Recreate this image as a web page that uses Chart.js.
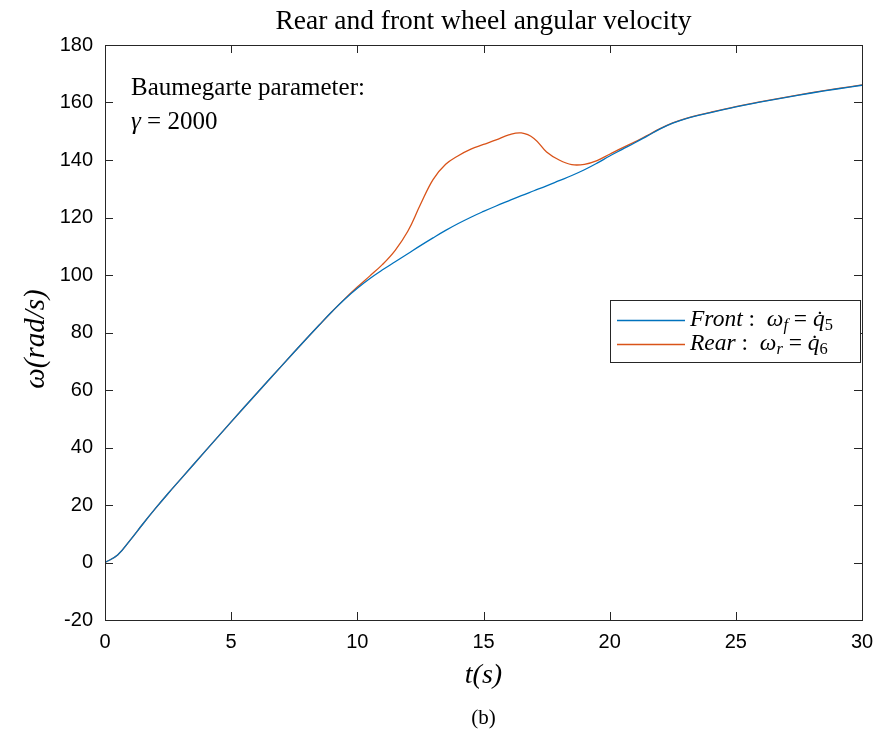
<!DOCTYPE html>
<html>
<head>
<meta charset="utf-8">
<script src="https://cdn.jsdelivr.net/npm/chart.js@4.4.0/dist/chart.umd.min.js"></script>
<style>
  html, body { margin: 0; padding: 0; background: #fff; }
  #wrap { width: 888px; height: 734px; }
</style>
</head>
<body>
<div id="wrap"><canvas id="omegaChart" width="888" height="734"></canvas></div>
<script>
// Tiempo (s)
const tiempo = [0, 0.5, 1, 1.5, 2, 2.5, 3, 4, 5, 6, 7, 8, 8.5, 9, 9.5, 10, 10.5, 11, 11.5, 12, 12.5, 13, 13.5,
  14, 14.5, 15, 15.5, 16, 16.5, 17, 17.5, 18, 18.5, 19, 19.5, 20, 20.5, 21, 21.5, 22, 22.5, 23,
  24, 25, 26, 27, 28, 29, 30];

// Rueda delantera: omega_f (rad/s)
const front = [0, 2.6, 7.8, 13.4, 18.8, 24, 29, 39, 48.9, 58.7, 68.4, 78, 82.7, 87.3, 91.6, 95.4, 98.8, 101.8, 104.6, 107.4, 110.2, 112.9, 115.5,
  117.9, 120.1, 122.1, 124, 125.8, 127.6, 129.3, 131, 132.8, 134.6, 136.6, 138.9, 141.4, 143.7, 146, 148.4, 150.8, 152.8, 154.3,
  156.5, 158.5, 160.2, 161.8, 163.3, 164.7, 166];

// Rueda trasera: omega_r (rad/s)
const rear = [0, 2.6, 7.8, 13.4, 18.8, 24, 29, 39, 48.9, 58.7, 68.4, 78, 82.7, 87.3, 91.7, 95.8, 99.7, 103.7, 108.6, 115.2, 124.5, 133.2, 138.5,
  141.5, 143.8, 145.4, 147, 148.7, 149.4, 147.5, 142.8, 140, 138.4, 138.5, 139.8, 142, 144.2, 146.3, 148.6, 150.9, 152.9, 154.4,
  156.6, 158.6, 160.3, 161.9, 163.4, 164.8, 166.1];

const xTicks = [0, 5, 10, 15, 20, 25, 30];
const yTicks = [-20, 0, 20, 40, 60, 80, 100, 120, 140, 160, 180];

const serif = '"Liberation Serif", "DejaVu Serif", serif';
const sans = '"Liberation Sans", Arial, sans-serif';

// dibuja texto con partes en cursiva y subíndices
function richText(ctx, parts, x, y, size) {
  let cx = x;
  parts.forEach(p => {
    const s = p.sub ? size * 0.7 : size;
    ctx.font = (p.it ? 'italic ' : '') + s + 'px ' + serif;
    ctx.fillText(p.t, cx, y + (p.sub ? size * 0.25 : 0));
    cx += ctx.measureText(p.t).width;
  });
}

const decoraciones = {
  id: 'decoraciones',
  afterDraw(chart) {
    const ctx = chart.ctx;
    const a = chart.chartArea;
    const xs = chart.scales.x, ys = chart.scales.y;
    ctx.save();
    // caja de ejes
    ctx.strokeStyle = '#262626';
    ctx.lineWidth = 1;
    ctx.strokeRect(a.left + 0.5, a.top + 0.5, a.right - a.left, a.bottom - a.top);
    // marcas hacia dentro
    ctx.beginPath();
    xTicks.forEach(v => {
      const px = Math.round(xs.getPixelForValue(v)) + 0.5;
      ctx.moveTo(px, a.bottom); ctx.lineTo(px, a.bottom - 8);
      ctx.moveTo(px, a.top); ctx.lineTo(px, a.top + 8);
    });
    yTicks.forEach(v => {
      const py = Math.round(ys.getPixelForValue(v)) + 0.5;
      ctx.moveTo(a.left, py); ctx.lineTo(a.left + 8, py);
      ctx.moveTo(a.right, py); ctx.lineTo(a.right - 8, py);
    });
    ctx.stroke();

    ctx.fillStyle = '#000';
    // título
    ctx.textAlign = 'center';
    ctx.textBaseline = 'middle';
    ctx.font = '27.5px ' + serif;
    ctx.fillText('Rear and front wheel angular velocity', (a.left + a.right) / 2, 22);
    // título eje x
    ctx.font = 'italic 28px ' + serif;
    ctx.fillText('t(s)', (a.left + a.right) / 2, 676);
    // (b)
    ctx.font = '21px ' + serif;
    ctx.fillText('(b)', (a.left + a.right) / 2, 718);
    // título eje y
    ctx.save();
    ctx.translate(36, 339);
    ctx.rotate(-Math.PI / 2);
    ctx.font = 'italic 29px ' + serif;
    ctx.fillText('ω(rad/s)', 0, 0);
    ctx.restore();

    // anotación
    ctx.textAlign = 'left';
    ctx.font = '25px ' + serif;
    ctx.fillText('Baumegarte parameter:', 131, 88);
    richText(ctx, [{ t: 'γ', it: true }, { t: ' = 2000' }], 131, 122, 25);

    // leyenda
    const lx = 610, ly = 300, lw = 250, lh = 62;
    ctx.fillStyle = '#fff';
    ctx.fillRect(lx, ly, lw, lh);
    ctx.strokeStyle = '#262626';
    ctx.lineWidth = 1;
    ctx.strokeRect(lx + 0.5, ly + 0.5, lw, lh);
    const rows = [
      { color: chart.data.datasets[0].borderColor, y: 320,
        parts: [{ t: 'Front', it: true }, { t: ' :  ' }, { t: 'ω', it: true }, { t: 'f', it: true, sub: true }, { t: ' = ' }, { t: 'q̇', it: true }, { t: '5', sub: true }] },
      { color: chart.data.datasets[1].borderColor, y: 344,
        parts: [{ t: 'Rear', it: true }, { t: ' :  ' }, { t: 'ω', it: true }, { t: 'r', it: true, sub: true }, { t: ' = ' }, { t: 'q̇', it: true }, { t: '6', sub: true }] }
    ];
    rows.forEach(r => {
      ctx.strokeStyle = r.color;
      ctx.lineWidth = 1.3;
      ctx.beginPath();
      ctx.moveTo(617, r.y + 0.5); ctx.lineTo(685, r.y + 0.5);
      ctx.stroke();
      ctx.fillStyle = '#000';
      richText(ctx, r.parts, 690, r.y, 23.5);
    });
    ctx.restore();
  }
};

const ctx1 = document.getElementById('omegaChart').getContext('2d');
const omegaChart = new Chart(ctx1, {
  type: 'line',
  data: {
    datasets: [{
      label: 'Front',
      data: tiempo.map((t, i) => ({ x: t, y: front[i] })),
      borderColor: '#0072BD',
      borderWidth: 1.3,
      pointRadius: 0,
      tension: 0.4
    }, {
      label: 'Rear',
      data: tiempo.map((t, i) => ({ x: t, y: rear[i] })),
      borderColor: '#D95319',
      borderWidth: 1.3,
      pointRadius: 0,
      tension: 0.4
    }]
  },
  options: {
    responsive: false,
    animation: false,
    layout: { padding: { top: 45, right: 26, left: 0, bottom: 0 } },
    plugins: { legend: { display: false }, title: { display: false }, tooltip: { enabled: false } },
    scales: {
      x: {
        type: 'linear', min: 0, max: 30,
        afterFit: s => { s.height = 114; },
        afterBuildTicks: s => { s.ticks = xTicks.map(v => ({ value: v })); },
        grid: { display: false, drawTicks: false },
        border: { display: false },
        ticks: { color: '#000', padding: 10, font: { family: sans, size: 20 } }
      },
      y: {
        min: -20, max: 180,
        afterFit: s => { s.width = 105; },
        afterBuildTicks: s => { s.ticks = yTicks.map(v => ({ value: v })); },
        grid: { display: false, drawTicks: false },
        border: { display: false },
        ticks: { color: '#000', padding: 12, font: { family: sans, size: 20 } }
      }
    }
  },
  plugins: [decoraciones]
});
</script>
</body>
</html>
